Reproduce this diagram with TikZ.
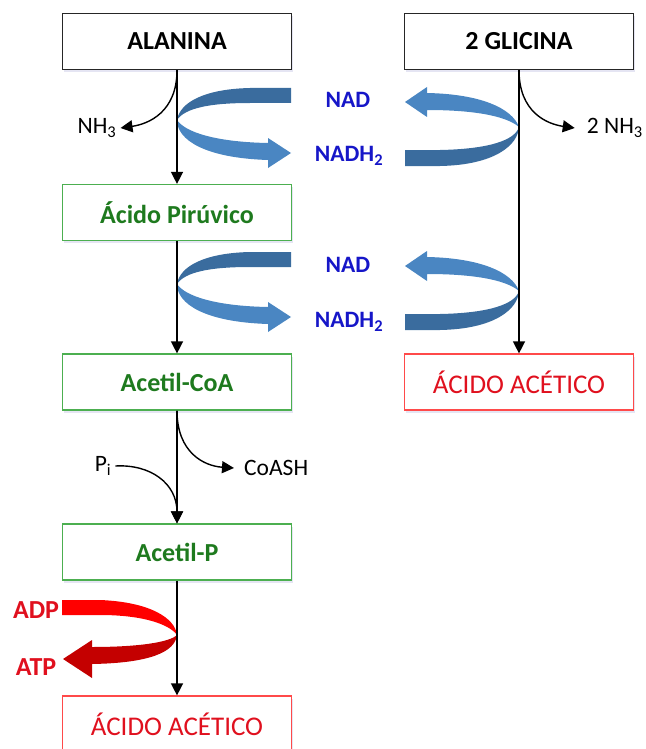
\documentclass[tikz,border=0pt]{standalone}
\usepackage{fontspec}
\setmainfont{Carlito}
\usetikzlibrary{arrows.meta,shadows}
\definecolor{grtext}{HTML}{1E7A1E}
\definecolor{grline}{HTML}{4CAF50}
\definecolor{rdtext}{HTML}{E0101E}
\definecolor{rdline}{HTML}{FF4A4A}
\definecolor{bltext}{HTML}{1616C8}
\definecolor{bandback}{HTML}{3A6C9E}
\definecolor{bandfront}{HTML}{4A86C2}
\definecolor{redfront}{HTML}{FF0000}
\definecolor{redback}{HTML}{C40000}
\begin{document}
\begin{tikzpicture}[x=1pt,y=-1pt,
  box/.style={draw, line width=1.2pt, minimum width=229pt, minimum height=56pt,
    inner sep=0pt, fill=white,
    drop shadow={shadow xshift=1.5pt, shadow yshift=-2.5pt, opacity=0.15, fill=blue!35!gray}},
  plainbox/.style={box, draw=black!85, text=black, font=\fontsize{26}{30}\selectfont\bfseries},
  greenbox/.style={box, draw=grline, text=grtext, font=\fontsize{26}{30}\selectfont\bfseries},
  redbox/.style={box, draw=rdline, text=rdtext, font=\fontsize{27}{31}\selectfont},
  lbl/.style={inner sep=0pt, font=\fontsize{23.5}{27}\selectfont},
  cof/.style={inner sep=0pt, text=bltext, font=\fontsize{23.5}{27}\selectfont\bfseries},
  atpl/.style={inner sep=0pt, text=rdtext, font=\fontsize{26}{30}\selectfont\bfseries},
  flow/.style={line width=1.4pt, -{Triangle[length=12pt,width=12pt]}},
]
\useasboundingbox (0,0) rectangle (645,749);

% boxes
\node[plainbox] (ala) at (177,41.5) {ALANINA};
\node[plainbox] (gli) at (519,41.5) {2 GLICINA};
\node[greenbox] (pir) at (177,212.5) {Ácido Pirúvico};
\node[greenbox] (coa) at (177,382) {Acetil-CoA};
\node[redbox]   (acr) at (519,382) {ÁCIDO ACÉTICO};
\node[greenbox] (acp) at (177,552) {Acetil-P};
\node[redbox]   (acb) at (177,724) {ÁCIDO ACÉTICO};

% side labels
\node[lbl] (nh3) at (97,128) {NH\textsubscript{3}};
\node[lbl, anchor=east] (nh3b) at (643,128) {2 NH\textsubscript{3}};
\node[lbl] (pi) at (103,466) {P\textsubscript{i}};
\node[lbl, anchor=west] (coash) at (244,468) {CoASH};
\node[cof] (nad1) at (348,100) {NAD};
\node[cof] (nadh1) at (349,156) {NADH\textsubscript{2}};
\node[cof] (nad2) at (348,265) {NAD};
\node[cof] (nadh2) at (349,322) {NADH\textsubscript{2}};
\node[atpl] (adp) at (36,610) {ADP};
\node[atpl] (atp) at (36,667) {ATP};

% cofactor bands, left and right of each step
\foreach \dy in {0,-164} {
\begin{scope}[yshift=\dy pt]
  % left band: back arm then front arm with head
  \fill[bandback] (291,88) -- (250,88) .. controls (205,89) and (180,102) .. (177,120)
     .. controls (185,108) and (210,103) .. (250,103) -- (291,103) -- cycle;
  \fill[bandfront] (177,120) .. controls (185,132) and (215,142) .. (268,143)
     -- (268,138) -- (291,153) -- (268,168) -- (268,160)
     .. controls (205,158) and (177,140) .. (177,120) -- cycle;
  % right band: front arm with head then back arm
  \fill[bandfront] (519,127) .. controls (512,108) and (480,94) .. (427,93)
     -- (427,87) -- (405,102) -- (427,117) -- (427,110)
     .. controls (470,110) and (505,115) .. (519,127) -- cycle;
  \fill[bandback] (405,150) -- (440,150) .. controls (490,149) and (515,140) .. (519,127)
     .. controls (518,145) and (495,165) .. (440,166) -- (405,166) -- cycle;
\end{scope}
}

% ADP / ATP band
\fill[redfront] (62,600) -- (100,600) .. controls (150,602) and (175,618) .. (177,635)
   .. controls (170,625) and (145,615) .. (100,615) -- (62,615) -- cycle;
\fill[redback] (177,635) .. controls (170,642) and (140,647) .. (92,647)
   -- (92,640) -- (63,659) -- (92,678) -- (92,664)
   .. controls (150,663) and (175,652) .. (177,635) -- cycle;

% main pathway
\draw[flow] (ala.south) -- (pir.north);
\draw[flow] (pir.south) -- (coa.north);
\draw[flow] (coa.south) -- (acp.north);
\draw[flow] (acp.south) -- (acb.north);
\draw[flow] (gli.south) -- (acr.north);

% side reactions
\draw[flow] (ala.south) .. controls +(0,42) and +(28,-4) .. ([xshift=4pt]nh3.east);
\draw[flow] (gli.south) .. controls +(0,42) and +(-28,-4) .. ([xshift=-12pt]nh3b.west);
\draw[flow] (coa.south) .. controls +(0,42) and +(-30,-2) .. ([xshift=-10pt]coash.west);
\draw[flow] ([xshift=4pt]pi.east) .. controls +(35,-2) and +(0,-40) .. (acp.north);
\end{tikzpicture}
\end{document}
